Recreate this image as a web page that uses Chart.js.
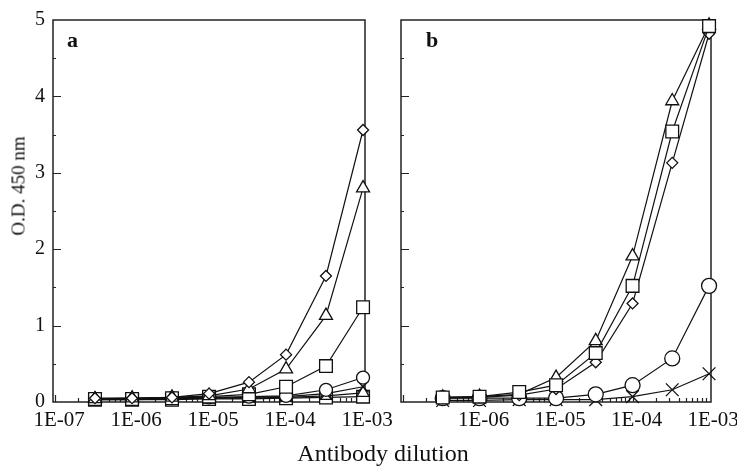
<!DOCTYPE html>
<html>
<head>
<meta charset="utf-8">
<script src="https://cdn.jsdelivr.net/npm/chart.js@4.4.0/dist/chart.umd.min.js"></script>
<style>
  html, body { margin: 0; padding: 0; background: #fff; }
  #wrap { position: relative; width: 737px; height: 470px; overflow: hidden;
          font-family: "Liberation Serif", "Times New Roman", serif; color: #111; }
  #wrap canvas { position: absolute; top: 0; }
  .lbl { position: absolute; white-space: nowrap; line-height: 1; }
  .panel { font-weight: bold; font-size: 22px; }
  #ytitle { left: 18px; top: 186px; font-size: 19px; transform: translate(-50%, -50%) rotate(-90deg); }
  #xtitle { left: 383px; top: 453px; font-size: 24px; transform: translate(-50%, -50%); }
</style>
</head>
<body>
<div id="wrap">
  <canvas id="chart-a" width="410" height="470" style="left:0"></canvas>
  <canvas id="chart-b" width="365" height="470" style="left:372px"></canvas>
  <div class="lbl" id="ytitle">O.D. 450 nm</div>
  <div class="lbl" id="xtitle">Antibody dilution</div>
  <div class="lbl panel" style="left:67px;top:29px">a</div>
  <div class="lbl panel" style="left:426px;top:29px">b</div>
</div>
<script>
// dilutions (3-fold steps), same for both panels
const dilution = [3.3e-7, 1e-6, 3.3e-6, 1e-5, 3.3e-5, 1e-4, 3.3e-4, 1e-3];

// panel a
const aDiamond  = [0.05, 0.05, 0.06, 0.11, 0.26, 0.62, 1.65, 3.56];
const aTriangle = [0.04, 0.05, 0.06, 0.08, 0.17, 0.43, 1.13, 2.80];
const aSquare   = [0.04, 0.04, 0.05, 0.07, 0.10, 0.20, 0.47, 1.24];
const aCircle   = [0.04, 0.04, 0.05, 0.06, 0.07, 0.08, 0.16, 0.32];
const aCross    = [0.03, 0.03, 0.04, 0.05, 0.06, 0.07, 0.11, 0.20];
const aLowTri   = [0.04, 0.04, 0.04, 0.05, 0.05, 0.06, 0.08, 0.12];
const aLowSq    = [0.03, 0.03, 0.03, 0.04, 0.04, 0.05, 0.06, 0.07];

// panel b
const bTriangle = [0.06, 0.07, 0.10, 0.32, 0.80, 1.91, 3.94, 4.93];
const bSquare   = [0.06, 0.07, 0.13, 0.22, 0.64, 1.52, 3.54, 4.92];
const bDiamond  = [0.05, 0.06, 0.09, 0.17, 0.52, 1.29, 3.13, 4.82];
const bCircle   = [0.05, 0.05, 0.05, 0.05, 0.10, 0.22, 0.57, 1.52];
const bCross    = [0.02, 0.02, 0.03, 0.03, 0.03, 0.07, 0.16, 0.37];

const yTicks = [0, 1, 2, 3, 4, 5];

const INK = '#111';
const FONT = '"Liberation Serif", "Times New Roman", serif';

function series(vals, style, radius) {
  return {
    data: dilution.map((d, i) => ({ x: d, y: vals[i] })),
    borderColor: INK, borderWidth: 1.2, tension: 0, fill: false, clip: false,
    pointStyle: style, pointRadius: radius,
    pointBackgroundColor: '#fff', pointBorderColor: INK, pointBorderWidth: 1.3
  };
}

// frame + inward tick marks
const frameTicks = {
  id: 'frameTicks',
  beforeDatasetsDraw(chart) {
    const { ctx, chartArea: a, scales: { x, y } } = chart;
    ctx.save();
    ctx.strokeStyle = '#222';
    ctx.lineWidth = 1.5;
    ctx.strokeRect(a.left, a.top, a.right - a.left, a.bottom - a.top);
    ctx.beginPath();
    ctx.lineWidth = 1.2;
    x.ticks.forEach(t => {
      const e = Math.floor(Math.log10(t.value) + 1e-9);
      const m = t.value / Math.pow(10, e);
      if (Math.abs(m - Math.round(m)) > 1e-6) return;
      const px = Math.round(x.getPixelForValue(t.value)) + 0.5;
      if (px < a.left + 2 || px > a.right - 2) return;
      const len = Math.round(m) === 1 ? 7 : 4;
      ctx.moveTo(px, a.bottom);
      ctx.lineTo(px, a.bottom - len);
    });
    y.ticks.forEach(t => {
      if (t.value <= 0 || t.value >= 5) return;
      const py = Math.round(y.getPixelForValue(t.value)) + 0.5;
      const len = Number.isInteger(t.value) ? 8 : 3;
      ctx.moveTo(a.left, py);
      ctx.lineTo(a.left + len, py);
    });
    ctx.stroke();
    ctx.restore();
  }
};

function expLabel(v, minShown) {
  const l = Math.log10(v);
  if (Math.abs(l - Math.round(l)) > 1e-6 || v < minShown) return '';
  const e = -Math.round(l);
  return '1E-' + (e < 10 ? '0' + e : e);
}

function makeChart(el, datasets, yAxisWidth, padRight, minShown, showY) {
  return new Chart(el, {
    type: 'line',
    data: { datasets },
    plugins: [frameTicks],
    options: {
      responsive: false, animation: false,
      layout: { padding: { top: 16, right: padRight, left: 0, bottom: 0 } },
      plugins: { legend: { display: false }, tooltip: { enabled: false } },
      scales: {
        x: {
          type: 'logarithmic', min: 9.4e-8, max: 1.06e-3,
          grid: { display: false, drawTicks: false }, border: { display: false },
          ticks: { autoSkip: false, maxRotation: 0, padding: 6, labelOffset: 4, color: INK,
                   font: { family: FONT, size: 21 },
                   callback: v => expLabel(v, minShown) },
          afterFit: s => { s.height = 68; }
        },
        y: {
          min: 0, max: 5,
          grid: { display: false, drawTicks: false }, border: { display: false },
          ticks: { stepSize: 0.5, padding: 8, color: INK,
                   font: { family: FONT, size: 20 },
                   callback: v => (showY && yTicks.includes(v)) ? v : '' },
          afterFit: s => { s.width = yAxisWidth; }
        }
      }
    }
  });
}

makeChart(document.getElementById('chart-a'), [
  series(aDiamond, 'rectRot', 5.5),
  series(aTriangle, 'triangle', 7.5),
  series(aSquare, 'rect', 9),
  series(aCircle, 'circle', 6.5),
  series(aCross, 'crossRot', 8),
  series(aLowTri, 'triangle', 7),
  series(aLowSq, 'rect', 9)
], 53, 45, 5e-8, true);

makeChart(document.getElementById('chart-b'), [
  series(bSquare, 'rect', 9),
  series(bTriangle, 'triangle', 7.5),
  series(bDiamond, 'rectRot', 5.5),
  series(bCircle, 'circle', 7.5),
  series(bCross, 'crossRot', 9)
], 29, 26, 5e-7, false);
</script>
</body>
</html>
